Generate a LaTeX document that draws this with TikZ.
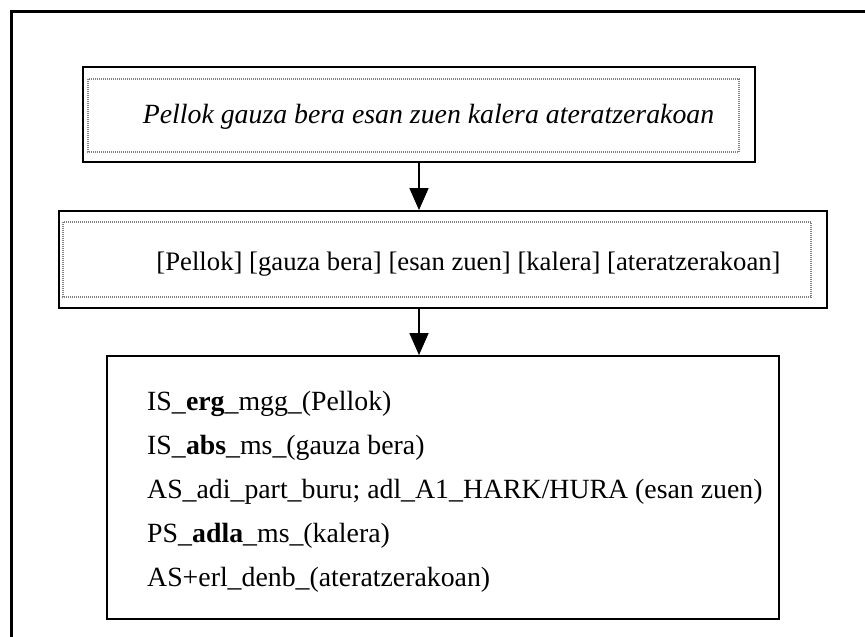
\documentclass[tikz,border=0pt]{standalone}
\usepackage{fontspec}
\setmainfont{Liberation Serif}
\usetikzlibrary{arrows.meta}

\begin{document}
\begin{tikzpicture}[x=1pt,y=-1pt]
        % Define styles for the boxes, texts and arrows
        \tikzset{
            frame line/.style={line width=2.6pt, black},
            outer box/.style={draw, line width=1.8pt, inner sep=0pt},
            dotted box/.style={draw=gray, line width=1.2pt, dash pattern=on 1pt off 1pt},
            word text/.style={anchor=base, inner sep=0pt, font=\fontsize{26.7}{32}\selectfont},
            tag text/.style={anchor=base west, inner sep=0pt, font=\fontsize{27.8}{32}\selectfont},
            down arrow/.style={-{Triangle[length=22pt, width=19pt]}, line width=1.4pt}
        }

        \useasboundingbox (0,0) rectangle (865,637);

        % Draw the open outer frame
        \draw[frame line] (11.5,637) -- (11.5,11.5) -- (865,11.5);

        % Draw the three boxes
        \node[outer box, minimum width=672pt, minimum height=95pt] (sentence) at (419,114.5) {};
        \node[outer box, minimum width=768pt, minimum height=97pt] (chunks) at (443,259.5) {};
        \node[outer box, minimum width=672pt, minimum height=263pt] (tags) at (443,487.5) {};

        % Dotted frames inside the first two boxes
        \draw[dotted box] (88,79) rectangle (739,152);
        \draw[dotted box] (63,222) rectangle (811,297);

        % Arrows between the boxes
        \draw[down arrow] (sentence.south) -- (sentence.south |- chunks.north);
        \draw[down arrow] (chunks.south -| sentence.south) -- (sentence.south |- tags.north);

        % Texts of the boxes
        \node[word text, font=\fontsize{27.8}{32}\selectfont\itshape] (sentencetext) at (428.5,123) {Pellok gauza bera esan zuen kalera ateratzerakoan};
        \node[word text] (chunktext) at (468.5,270) {[Pellok] [gauza bera] [esan zuen] [kalera] [ateratzerakoan]};
        \foreach \tag [count=\i] in {{IS\_\textbf{erg}\_mgg\_(Pellok)}, {IS\_\textbf{abs}\_ms\_(gauza bera)},
            {AS\_adi\_part\_buru; adl\_A1\_HARK/HURA (esan zuen)}, {PS\_\textbf{adla}\_ms\_(kalera)},
            {AS+erl\_denb\_(ateratzerakoan)}} {
            \node[tag text] (tag\i) at (147,{366+44*\i}) {\tag};
        }

    \end{tikzpicture}
\end{document}
